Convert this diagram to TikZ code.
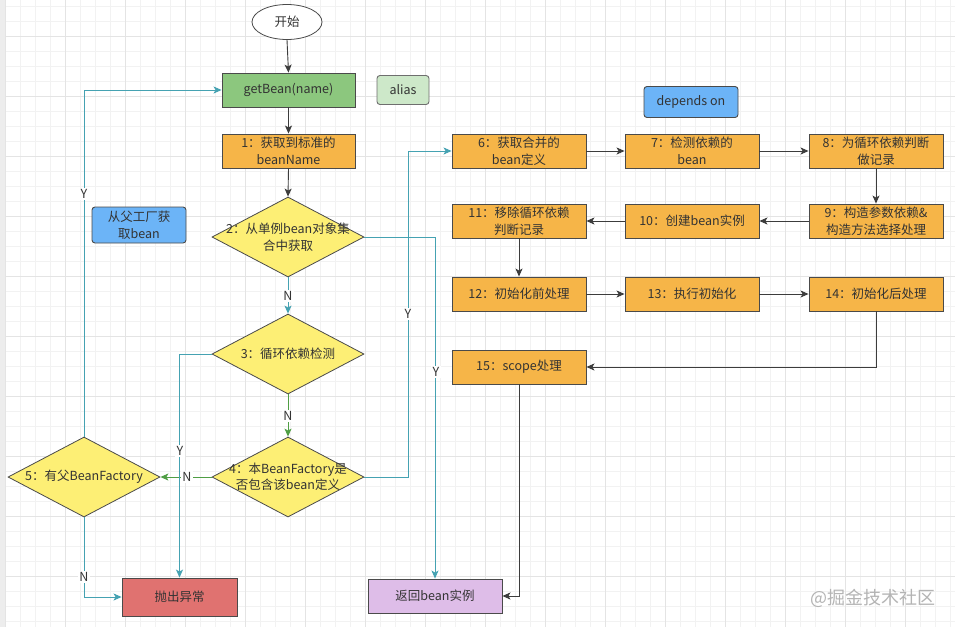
\documentclass[tikz,border=0pt]{standalone}
\usepackage{fontspec}
\setmainfont{Noto Sans CJK SC}
\usetikzlibrary{shapes.geometric,arrows.meta}
\definecolor{cgridmin}{HTML}{F2F2F2}
\definecolor{cgridmaj}{HTML}{E4E4E4}
\definecolor{cstrip}{HTML}{EDEDED}
\definecolor{cgreen}{HTML}{8CC77E}
\definecolor{clightgreen}{HTML}{CDE8C9}
\definecolor{corange}{HTML}{F6B548}
\definecolor{cyellow}{HTML}{FDEF75}
\definecolor{cred}{HTML}{E07270}
\definecolor{cblue}{HTML}{6CB4F7}
\definecolor{cpurple}{HTML}{DEBDE8}
\definecolor{cborder}{HTML}{4A4A4A}
\definecolor{ctxt}{HTML}{333333}
\definecolor{cdark}{HTML}{3C3C3C}
\definecolor{cteal}{HTML}{45A2B2}
\definecolor{cgline}{HTML}{4F9E44}
\definecolor{cwm}{HTML}{B4B4B4}
\newcommand\myfs{\fontsize{12.5}{16.5}\selectfont}
\tikzset{
  >={Stealth[length=8pt,width=7pt,inset=2pt]},
  box/.style={draw=cborder, line width=0.9pt, minimum width=133pt, minimum height=34pt,
    inner sep=0pt, align=center, font=\myfs, text=ctxt},
  dia/.style={diamond, draw=cborder, fill=cyellow, minimum width=152pt, minimum height=80pt,
    inner sep=0pt, line width=0.8pt},
  dtxt/.style={align=center, font=\myfs, text=ctxt, inner sep=0pt},
  ln/.style={draw=cdark, line width=0.9pt, ->},
  tl/.style={draw=cteal, line width=0.9pt, ->},
  gl/.style={draw=cgline, line width=0.9pt, ->},
  lbl/.style={fill=white, inner sep=1.5pt, font=\myfs, text=ctxt},
}
\begin{document}
\begin{tikzpicture}[x=1pt,y=-1pt]
\useasboundingbox (0,0) rectangle (955,627);
% background grid
\fill[white] (0,0) rectangle (955,627);
\foreach \x in {5,20,...,955} \draw[cgridmin, line width=0.8pt] (\x,0) -- (\x,627);
\foreach \y in {6,21,...,627} \draw[cgridmin, line width=0.8pt] (0,\y) -- (955,\y);
\foreach \x in {5,65,...,955} \draw[cgridmaj, line width=0.8pt] (\x,0) -- (\x,627);
\foreach \y in {36,96,...,627} \draw[cgridmaj, line width=0.8pt] (0,\y) -- (955,\y);
\fill[cstrip] (0,0) rectangle (4.5,627);

% nodes
\node[ellipse, draw=cborder, line width=0.8pt, fill=white, minimum width=70pt, minimum height=35pt,
  inner sep=0pt, font=\myfs, text=ctxt] (start) at (287,22) {开始};
\node[box, fill=cgreen] (gb) at (288.5,90) {getBean(name)};
\node[box, rounded corners=3pt, draw=cborder!80, fill=clightgreen, minimum width=52pt, minimum height=29pt] (alias) at (403,90) {alias};
\node[box, fill=corange] (b1) at (288.5,151) {1：获取到标准的\\beanName};

\node[dia] (d2) at (288,237) {};
\node[dtxt] (t2) at (288,237) {2：从单例bean对象集\\合中获取};
\node[dia] (d3) at (288,354) {};
\node[dtxt] (t3) at (288,354) {3：循环依赖检测};
\node[dia] (d4) at (288,477) {};
\node[dtxt] (t4) at (288,477) {4：本BeanFactory是\\否包含该bean定义};
\node[dia] (d5) at (84,477) {};
\node[dtxt] (t5) at (84,477) {5：有父BeanFactory};

\node[box, fill=cred, minimum width=115pt, minimum height=38pt] (throw) at (179.5,597) {抛出异常};
\node[box, rounded corners=3pt, fill=cblue, minimum width=94pt, minimum height=36pt] (pf) at (139,225) {从父工厂获\\取bean};
\node[box, rounded corners=3pt, fill=cblue, minimum width=94pt, minimum height=31pt] (dep) at (691,102) {depends on};

\node[box, fill=corange, minimum width=134pt] (b6) at (519,151) {6：获取合并的\\bean定义};
\node[box, fill=corange, minimum width=134pt] (b7) at (692,151) {7：检测依赖的\\bean};
\node[box, fill=corange, minimum width=134pt] (b8) at (876,151) {8：为循环依赖判断\\做记录};
\node[box, fill=corange, minimum width=134pt] (b9) at (876,221) {9：构造参数依赖\&\\构造方法选择处理};
\node[box, fill=corange, minimum width=134pt] (b10) at (692,221) {10：创建bean实例};
\node[box, fill=corange, minimum width=134pt] (b11) at (519,221) {11：移除循环依赖\\判断记录};
\node[box, fill=corange, minimum width=134pt] (b12) at (519,294) {12：初始化前处理};
\node[box, fill=corange, minimum width=134pt] (b13) at (692,294) {13：执行初始化};
\node[box, fill=corange, minimum width=134pt] (b14) at (876,294) {14：初始化后处理};
\node[box, fill=corange, minimum width=134pt] (b15) at (519,367) {15：scope处理};
\node[box, fill=cpurple, minimum width=134pt] (ret) at (435,596) {返回bean实例};

% connectors
\draw[ln] (start.south) -- (gb.north);
\draw[ln] (gb.south) -- (b1.north);
\draw[ln] (b1.south) -- (d2.north);
\draw[tl] (d2.south) -- (d3.north);
\draw[gl] (d3.south) -- (d4.north);
\draw[gl] (d4.west) -- (d5.east);
\draw[tl] (d3.west) -| (throw.north);
\draw[tl] (d5.south) |- (throw.west);
\draw[tl] (d5.north) |- (gb.west);
\draw[tl] (d4.east) -- ++(44,0) |- (b6.west);
\draw[tl] (d2.east) -| (ret.north);

\draw[ln] (b6.east) -- (b7.west);
\draw[ln] (b7.east) -- (b8.west);
\draw[ln] (b8.south) -- (b9.north);
\draw[ln] (b9.west) -- (b10.east);
\draw[ln] (b10.west) -- (b11.east);
\draw[ln] (b11.south) -- (b12.north);
\draw[ln] (b12.east) -- (b13.west);
\draw[ln] (b13.east) -- (b14.west);
\draw[ln] (b14.south) |- (b15.east);
\draw[ln] (b15.south) |- (ret.east);

% connector labels
\node[lbl] (n1) at (288,296) {N};
\node[lbl] (n2) at (288,416) {N};
\node[lbl] (n3) at (187,477) {N};
\node[lbl] (y1) at (180,451) {Y};
\node[lbl] (n4) at (84,577) {N};
\node[lbl] (y2) at (84,194) {Y};
\node[lbl] (y3) at (408,314) {Y};
\node[lbl] (y4) at (436,372) {Y};

% watermark
\node[text=cwm, font=\fontsize{18}{20}\selectfont, inner sep=0pt] (wm) at (873,598) {@掘金技术社区};
\end{tikzpicture}
\end{document}
